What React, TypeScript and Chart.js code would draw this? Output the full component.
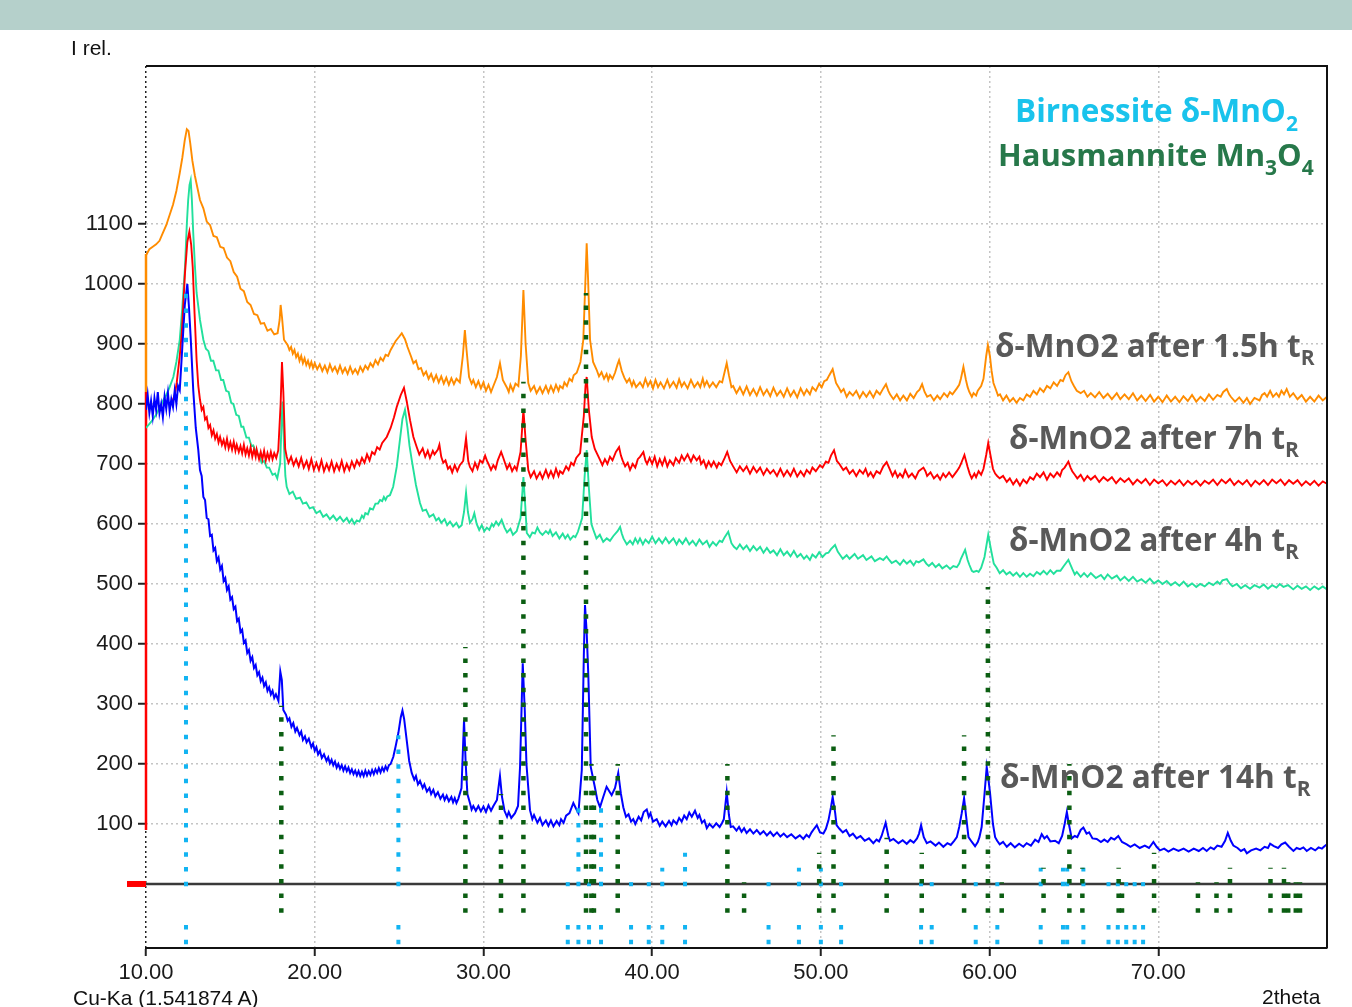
import { useEffect, useRef } from "react";
import { Chart, registerables } from "chart.js";

Chart.register(...registerables);

// ---------- data (2theta, intensity) ----------
const curve14h: [number, number][] = [
  [10.0, 790],[10.1, 815],[10.2, 785],[10.3, 805],[10.4, 780],[10.5, 810],[10.6, 790],[10.7, 820],[10.8, 785],[10.9, 800],
  [11.0, 778],[11.1, 812],[11.2, 792],[11.3, 818],[11.4, 788],[11.5, 808],[11.6, 795],[11.7, 822],[11.8, 800],[11.9, 830],
  [12.0, 823],[12.1, 870],[12.2, 918],[12.3, 965],[12.45, 1000],[12.55, 960],[12.65, 910],[12.8, 823],[12.95, 760],[13.1, 723],
  [13.2, 690],[13.3, 680],[13.4, 645],[13.5, 640],[13.6, 610],[13.7, 608],[13.8, 580],[13.9, 582],[14.0, 556],[14.1, 560],
  [14.2, 538],[14.3, 544],[14.4, 524],[14.5, 530],[14.6, 505],[14.7, 510],[14.8, 490],[14.9, 496],[15.0, 474],[15.1, 478],
  [15.2, 458],[15.3, 462],[15.4, 438],[15.5, 442],[15.6, 420],[15.7, 424],[15.8, 402],[15.9, 406],[16.0, 385],[16.1, 390],
  [16.2, 372],[16.3, 378],[16.4, 360],[16.5, 365],[16.6, 348],[16.7, 353],[16.8, 338],[16.9, 344],[17.0, 330],[17.1, 336],
  [17.2, 322],[17.3, 328],[17.4, 316],[17.5, 322],[17.6, 310],[17.7, 316],[17.85, 305],[17.96, 354],[18.05, 340],[18.14, 290],
  [18.3, 282],[18.4, 272],[18.5, 276],[18.62, 262],[18.73, 268],[18.85, 254],[18.95, 260],[19.1, 248],[19.2, 254],[19.3, 240],
  [19.42, 246],[19.52, 236],[19.65, 242],[19.8, 228],[19.9, 234],[20.0, 222],[20.1, 228],[20.2, 216],[20.31, 222],[20.42, 210],
  [20.55, 216],[20.7, 205],[20.8, 211],[20.9, 201],[21.0, 207],[21.1, 198],[21.2, 204],[21.3, 194],[21.4, 200],[21.5, 192],
  [21.6, 198],[21.7, 189],[21.8, 196],[21.9, 188],[22.0, 194],[22.1, 185],[22.2, 191],[22.3, 183],[22.4, 189],[22.5, 181],
  [22.6, 188],[22.7, 180],[22.8, 187],[22.9, 180],[23.0, 189],[23.1, 181],[23.2, 188],[23.3, 182],[23.4, 190],[23.5, 183],
  [23.6, 191],[23.7, 185],[23.8, 193],[23.9, 186],[24.0, 194],[24.1, 188],[24.2, 196],[24.3, 190],[24.4, 198],[24.5, 200],
  [24.66, 212],[24.8, 230],[24.96, 252],[25.1, 278],[25.2, 289],[25.3, 275],[25.45, 240],[25.6, 205],
  [25.75, 185],[25.9, 174],[26.0, 180],[26.12, 166],[26.24, 172],[26.4, 160],[26.5, 166],[26.65, 154],[26.8, 160],[26.9, 150],
  [27.03, 157],[27.15, 146],[27.3, 153],[27.45, 142],[27.6, 149],[27.7, 140],[27.82, 147],[27.95, 138],[28.1, 145],[28.2, 136],
  [28.3, 143],[28.4, 135],[28.51, 142],[28.7, 160],[28.85, 273],[28.95, 200],[29.05, 150],
  [29.2, 135],[29.3, 124],[29.4, 130],[29.55, 122],[29.7, 130],[29.85, 121],[30.0, 129],[30.15, 120],[30.3, 131],[30.45, 122],
  [30.59, 130],[30.8, 140],[30.98, 180],[31.1, 145],[31.25, 122],[31.4, 112],[31.5, 120],[31.65, 110],[31.87, 118],[32.05, 130],
  [32.17, 195],[32.33, 368],[32.45, 290],[32.55, 200],
  [32.76, 123],[32.9, 108],[33.0, 115],[33.2, 102],[33.35, 110],[33.5, 98],[33.7, 106],[33.85, 97],[34.0, 106],[34.15, 96],
  [34.34, 105],[34.5, 98],[34.6, 108],[34.75, 102],[34.9, 114],[35.1, 118],[35.33, 135],
  [35.5, 125],[35.63, 118],[35.83, 190],[35.95, 380],[36.02, 465],[36.12, 420],[36.22, 345],[36.36, 195],[36.6, 162],[36.75, 140],
  [36.91, 128],[37.1, 145],[37.3, 162],[37.45, 155],[37.6, 148],[37.8, 160],[37.99, 185],[38.15, 150],
  [38.29, 128],[38.45, 112],[38.6, 116],[38.75, 104],[38.88, 108],[39.0, 100],[39.2, 112],[39.35, 106],[39.5, 120],[39.68, 124],
  [39.8, 112],[39.9, 118],[40.05, 104],[40.27, 108],[40.45, 97],[40.6, 104],[40.8, 96],[41.0, 105],[41.15, 98],[41.26, 106],
  [41.45, 100],[41.6, 110],[41.75, 104],[41.9, 114],[42.05, 108],[42.2, 119],[42.35, 112],[42.54, 122],[42.7, 110],[42.8, 115],
  [42.95, 102],[43.1, 106],[43.24, 93],[43.4, 100],[43.6, 94],[43.8, 101],[44.0, 95],[44.15, 102],[44.25, 108],[44.42, 153],
  [44.55, 115],[44.66, 95],[44.8, 96],[45.0, 89],[45.15, 95],[45.3, 87],[45.45, 93],[45.6, 85],[45.8, 91],[46.0, 84],
  [46.2, 90],[46.4, 83],[46.6, 88],[46.8, 81],[47.0, 87],[47.19, 80],[47.4, 86],[47.6, 79],[47.8, 84],[48.0, 78],
  [48.25, 83],[48.5, 76],[48.75, 81],[48.96, 75],[49.15, 82],[49.3, 78],[49.45, 86],[49.6, 92],[49.76, 98],[49.95, 86],
  [50.15, 84],[50.3, 92],[50.45, 106],[50.6, 128],[50.7, 145],[50.85, 118],[50.93, 98],[51.1, 92],[51.3, 86],[51.5, 90],
  [51.7, 80],[51.9, 84],[52.12, 76],[52.35, 80],[52.6, 72],[52.85, 76],[53.11, 68],[53.3, 74],[53.45, 71],[53.6, 80],
  [53.84, 102],[54.0, 80],[54.1, 72],[54.3, 75],[54.6, 68],[54.85, 73],[55.09, 67],[55.3, 73],[55.5, 69],[55.7, 76],
  [55.82, 84],[55.94, 98],[56.1, 78],[56.28, 68],[56.5, 71],[56.8, 64],[57.0, 69],[57.26, 62],[57.5, 68],[57.7, 65],
  [57.9, 72],[58.06, 78],[58.2, 95],[58.35, 118],[58.49, 143],[58.6, 115],[58.75, 78],[58.95, 70],[59.14, 63],[59.3, 70],
  [59.4, 78],[59.53, 95],[59.7, 150],[59.83, 195],[59.95, 170],[60.03, 151],[60.2, 100],[60.33, 78],[60.45, 72],[60.6, 66],
  [60.8, 70],[61.02, 62],[61.25, 68],[61.5, 61],[61.75, 67],[62.0, 62],[62.2, 68],[62.45, 64],[62.7, 74],[62.9, 70],
  [63.09, 83],[63.25, 76],[63.4, 80],[63.6, 71],[63.88, 72],[64.1, 68],[64.3, 80],[64.45, 100],[64.58, 120],[64.7, 100],
  [64.87, 76],[65.05, 80],[65.2, 78],[65.4, 90],[65.56, 94],[65.75, 84],[65.9, 86],[66.1, 76],[66.35, 75],[66.6, 70],
  [66.8, 74],[67.0, 70],[67.2, 77],[67.4, 74],[67.63, 80],[67.85, 70],[68.13, 66],[68.35, 62],[68.6, 66],[68.9, 60],
  [69.2, 64],[69.45, 60],[69.71, 70],[69.9, 62],[70.1, 56],[70.35, 59],[70.6, 54],[70.9, 59],[71.2, 55],[71.5, 59],
  [71.8, 54],[72.1, 59],[72.4, 55],[72.65, 60],[72.87, 55],[73.1, 61],[73.3, 58],[73.5, 64],[73.75, 62],[73.96, 72],
  [74.12, 85],[74.3, 72],[74.45, 64],[74.7, 60],[74.9, 55],[75.1, 58],[75.25, 51],[75.5, 56],[75.8, 59],[76.05, 56],
  [76.3, 62],[76.5, 60],[76.63, 67],[76.85, 63],[77.1, 60],[77.3, 66],[77.52, 69],[77.75, 62],[78.01, 55],[78.2, 60],
  [78.4, 58],[78.6, 61],[78.8, 55],[79.05, 60],[79.3, 56],[79.5, 61],[79.7, 59],[79.85, 63],[80.0, 66],
];

const curve1_5h: [number, number][] = [
  [10.0, 1048],[10.2, 1058],[10.4, 1062],[10.6, 1066],[10.8, 1072],[11.0, 1085],[11.2, 1098],[11.4, 1115],[11.6, 1132],[11.8, 1155],
  [12.0, 1185],[12.15, 1210],[12.3, 1240],[12.42, 1258],[12.52, 1255],[12.62, 1235],[12.75, 1205],[12.9, 1180],[13.05, 1160],[13.2, 1140],
  [13.4, 1126],[13.6, 1104],[13.8, 1098],[14.0, 1080],[14.2, 1078],[14.4, 1062],[14.6, 1060],[14.8, 1044],[15.0, 1038],[15.2, 1020],
  [15.4, 1012],[15.6, 992],[15.8, 988],[16.0, 970],[16.2, 965],[16.4, 950],[16.6, 948],[16.8, 934],[17.0, 935],[17.2, 922],
  [17.4, 925],[17.6, 916],[17.8, 918],[17.92, 940],[17.98, 965],[18.06, 945],[18.18, 907],
  [18.4, 898],[18.5, 890],[18.6, 895],[18.7, 884],[18.8, 890],[18.9, 878],[19.0, 884],[19.1, 872],[19.2, 880],[19.3, 868],
  [19.4, 876],[19.5, 865],[19.6, 872],[19.7, 862],[19.8, 870],[19.9, 860],[20.0, 868],[20.15, 858],[20.3, 866],[20.45, 855],
  [20.6, 864],[20.75, 853],[20.9, 866],[21.05, 855],[21.2, 862],[21.35, 852],[21.5, 864],[21.65, 852],[21.8, 860],[21.95, 850],
  [22.1, 862],[22.25, 851],[22.4, 858],[22.55, 850],[22.7, 862],[22.85, 854],[23.0, 864],[23.15, 858],[23.3, 868],[23.45, 862],
  [23.6, 873],[23.75, 866],[23.9, 877],[24.05, 872],[24.2, 882],[24.35, 880],[24.5, 890],
  [24.8, 905],[25.0, 912],[25.16, 918],[25.35, 908],[25.5, 895],
  [25.7, 880],[25.85, 868],[26.0, 872],[26.15, 858],[26.3, 860],[26.45, 848],[26.6, 854],[26.75, 842],[26.9, 850],[27.05, 838],
  [27.2, 848],[27.35, 836],[27.5, 846],[27.65, 834],[27.8, 844],[27.95, 832],[28.1, 843],[28.25, 833],[28.4, 842],[28.6, 836],
  [28.78, 880],[28.9, 923],[29.0, 890],
  [29.15, 845],[29.3, 834],[29.4, 840],[29.55, 828],[29.7, 838],[29.85, 826],[30.0, 836],[30.15, 822],[30.3, 832],[30.45, 820],
  [30.59, 830],[30.8, 845],[30.98, 868],[31.15, 840],
  [31.38, 828],[31.5, 820],[31.6, 832],[31.75, 822],[31.9, 834],[32.07, 830],[32.22, 880],[32.37, 990],[32.5, 900],
  [32.66, 835],[32.8, 822],[33.0, 830],[33.15, 818],[33.35, 828],[33.5, 818],[33.7, 830],[33.85, 819],[34.0, 830],[34.15, 820],
  [34.3, 832],[34.45, 822],[34.54, 830],[34.7, 826],[34.8, 836],[34.95, 830],[35.1, 842],[35.25, 838],[35.35, 848],[35.53, 852],
  [35.75, 870],[35.92, 907],[36.05, 1010],[36.12, 1068],[36.2, 1010],[36.32, 907],[36.5, 870],
  [36.71, 857],[36.85, 846],[37.0, 853],[37.15, 842],[37.3, 850],[37.4, 840],[37.5, 848],[37.65, 842],[37.8, 852],[37.95, 866],
  [38.04, 873],[38.2, 855],[38.35, 844],[38.5, 836],[38.65, 842],[38.8, 830],[38.9, 838],[39.05, 828],[39.28, 836],[39.45, 828],
  [39.6, 842],[39.75, 830],[39.9, 838],[40.05, 826],[40.2, 840],[40.35, 828],[40.5, 836],[40.7, 826],[40.9, 840],[41.05, 828],
  [41.26, 837],[41.45, 827],[41.6, 841],[41.75, 829],[41.9, 836],[42.1, 826],[42.3, 840],[42.5, 828],[42.7, 836],[42.85, 828],
  [43.0, 842],[43.1, 830],[43.24, 838],[43.4, 828],[43.6, 836],[43.8, 828],[44.0, 838],[44.15, 836],[44.25, 848],[44.42, 868],
  [44.55, 848],[44.7, 828],[44.8, 830],[45.0, 818],[45.2, 828],[45.4, 816],[45.6, 829],[45.8, 815],[46.0, 825],[46.2, 814],
  [46.4, 828],[46.6, 815],[46.8, 824],[47.0, 813],[47.19, 827],[47.4, 814],[47.6, 822],[47.8, 812],[48.0, 826],[48.2, 813],
  [48.4, 822],[48.6, 811],[48.8, 826],[49.0, 815],[49.16, 824],[49.35, 816],[49.5, 828],[49.7, 822],[49.9, 834],[50.05, 828],
  [50.2, 838],[50.35, 840],[50.5, 848],[50.7, 858],[50.9, 835],[51.05, 828],[51.2, 820],[51.35, 825],[51.53, 812],[51.7, 820],
  [51.9, 814],[52.1, 822],[52.3, 810],[52.5, 820],[52.7, 812],[52.9, 821],[53.11, 811],[53.3, 822],[53.5, 816],[53.7, 826],
  [53.86, 833],[54.0, 822],[54.1, 816],[54.3, 808],[54.5, 816],[54.7, 806],[54.89, 814],[55.1, 806],[55.3, 817],[55.5, 810],
  [55.7, 820],[55.85, 824],[56.0, 833],[56.15, 820],[56.3, 812],[56.5, 815],[56.7, 806],[56.9, 814],[57.07, 808],[57.3, 818],
  [57.5, 812],[57.65, 820],[57.8, 816],[58.06, 826],[58.2, 832],[58.3, 842],[58.45, 862],[58.6, 840],[58.7, 828],[58.8, 820],
  [58.95, 812],[59.05, 818],[59.2, 814],[59.3, 822],[59.5, 830],[59.64, 842],[59.8, 880],[59.9, 898],[60.02, 880],[60.12, 855],
  [60.23, 835],[60.4, 822],[60.5, 814],[60.62, 816],[60.8, 806],[61.0, 814],[61.2, 804],[61.4, 810],[61.6, 802],[61.8, 810],
  [62.0, 806],[62.2, 816],[62.4, 812],[62.6, 822],[62.8, 816],[62.99, 826],[63.2, 820],[63.4, 830],[63.6, 826],[63.8, 836],
  [64.0, 830],[64.2, 840],[64.35, 838],[64.5, 848],[64.67, 853],[64.85, 838],[65.0, 830],[65.17, 822],[65.4, 818],[65.6, 822],
  [65.8, 812],[66.0, 818],[66.25, 811],[66.5, 820],[66.75, 810],[67.0, 817],[67.25, 808],[67.54, 818],[67.75, 808],[68.0, 816],
  [68.25, 808],[68.5, 818],[68.75, 806],[69.0, 814],[69.25, 805],[69.52, 815],[69.75, 804],[70.0, 812],[70.25, 803],[70.5, 814],
  [70.75, 804],[71.0, 812],[71.25, 803],[71.49, 813],[71.75, 805],[72.0, 815],[72.25, 804],[72.5, 812],[72.75, 805],[73.0, 816],
  [73.25, 807],[73.5, 815],[73.7, 812],[73.85, 820],[74.06, 825],[74.2, 816],[74.3, 812],[74.55, 804],[74.8, 811],[75.05, 802],
  [75.25, 810],[75.44, 800],[75.7, 810],[76.0, 806],[76.15, 815],[76.3, 818],[76.45, 812],[76.63, 822],[76.8, 812],[77.0, 818],
  [77.15, 812],[77.3, 822],[77.45, 816],[77.61, 825],[77.8, 812],[78.0, 818],[78.25, 808],[78.5, 815],[78.75, 804],[79.0, 812],
  [79.25, 804],[79.5, 814],[79.75, 806],[80.0, 812],
];

const curve7h: [number, number][] = [
  [11.5, 800],[11.7, 815],[11.82, 835],[12.0, 880],[12.12, 918],[12.22, 970],[12.31, 1018],[12.45, 1070],[12.57, 1087],[12.68, 1065],
  [12.77, 1028],[12.88, 950],[13.0, 873],[13.1, 830],
  [13.2, 807],[13.3, 790],[13.4, 795],[13.5, 774],[13.6, 778],[13.7, 760],[13.8, 765],[13.9, 748],[14.0, 756],[14.1, 742],
  [14.2, 750],[14.3, 736],[14.39, 745],[14.5, 732],[14.6, 740],[14.7, 728],[14.8, 742],[14.9, 726],[15.0, 736],[15.1, 724],
  [15.2, 737],[15.3, 722],[15.38, 732],[15.5, 720],[15.6, 730],[15.7, 718],[15.8, 732],[15.9, 716],[16.0, 726],[16.1, 714],
  [16.2, 728],[16.3, 712],[16.4, 724],[16.5, 712],[16.56, 724],[16.7, 708],[16.8, 720],[16.9, 708],[17.0, 722],[17.1, 706],
  [17.2, 718],[17.3, 708],[17.4, 720],[17.5, 708],[17.6, 718],[17.72, 710],[17.84, 723],
  [17.98, 800],[18.06, 870],[18.14, 820],[18.25, 725],
  [18.34, 712],[18.45, 702],[18.6, 712],[18.75, 698],[18.9, 708],[19.05, 696],[19.2, 710],[19.35, 694],[19.52, 705],[19.65, 692],
  [19.8, 708],[19.95, 690],[20.1, 702],[20.25, 690],[20.4, 706],[20.55, 688],[20.71, 700],[20.85, 690],[21.0, 704],[21.15, 688],
  [21.3, 700],[21.45, 690],[21.6, 705],[21.75, 688],[21.9, 700],[22.05, 690],[22.2, 704],[22.35, 694],[22.5, 706],[22.65, 698],
  [22.8, 710],[22.95, 702],[23.1, 716],[23.25, 706],[23.4, 720],[23.55, 716],[23.7, 728],[23.85, 724],[24.0, 735],
  [24.27, 745],[24.5, 760],[24.7, 778],[24.86, 795],[25.1, 815],[25.29, 827],[25.45, 805],[25.65, 773],[25.85, 745],
  [26.05, 728],[26.2, 716],[26.4, 726],[26.55, 712],[26.7, 722],[26.83, 710],[27.0, 722],[27.1, 716],[27.3, 724],[27.39, 732],
  [27.5, 712],[27.62, 702],[27.75, 706],[27.9, 692],[28.02, 696],[28.15, 686],[28.3, 698],[28.45, 688],[28.6, 698],[28.8, 705],
  [28.97, 743],[29.1, 705],
  [29.2, 695],[29.35, 688],[29.5, 702],[29.65, 692],[29.8, 706],[29.95, 702],[30.1, 714],[30.2, 706],[30.3, 700],[30.45, 690],
  [30.59, 698],[30.72, 692],[30.85, 706],[31.05, 720],[31.18, 710],[31.3, 700],[31.4, 692],[31.55, 700],[31.7, 688],[31.85, 696],
  [31.97, 690],[32.2, 720],[32.37, 790],[32.5, 740],
  [32.66, 690],[32.8, 678],[33.0, 688],[33.15, 676],[33.35, 686],[33.5, 676],[33.7, 690],[33.85, 678],[34.0, 688],[34.15, 678],
  [34.3, 692],[34.45, 680],[34.54, 688],[34.7, 684],[34.9, 696],[35.05, 690],[35.2, 702],[35.35, 698],[35.5, 710],[35.73, 718],
  [35.95, 780],[36.05, 830],[36.12, 845],[36.25, 790],[36.42, 745],[36.6, 725],
  [36.91, 707],[37.05, 698],[37.2, 708],[37.35, 700],[37.5, 712],[37.65, 706],[37.85, 720],[38.04, 728],[38.15, 714],[38.25, 706],
  [38.4, 696],[38.55, 702],[38.69, 690],[38.85, 700],[39.0, 694],[39.15, 708],[39.28, 712],[39.48, 720],[39.6, 706],[39.7, 700],
  [39.85, 710],[40.0, 700],[40.15, 712],[40.3, 696],[40.45, 708],[40.6, 698],[40.75, 710],[40.9, 696],[41.05, 706],[41.26, 698],
  [41.4, 710],[41.6, 702],[41.75, 714],[41.9, 706],[42.1, 716],[42.3, 704],[42.45, 714],[42.64, 706],[42.8, 712],[42.9, 700],
  [43.05, 706],[43.2, 694],[43.35, 704],[43.5, 696],[43.65, 704],[43.83, 694],[43.95, 702],[44.1, 698],[44.3, 710],[44.45, 720],
  [44.62, 705],[44.8, 696],[45.01, 686],[45.2, 696],[45.4, 688],[45.6, 696],[45.8, 684],[46.0, 695],[46.2, 686],[46.4, 694],
  [46.6, 682],[46.8, 692],[47.0, 684],[47.19, 690],[47.4, 680],[47.6, 692],[47.8, 680],[48.0, 689],[48.2, 680],[48.4, 692],
  [48.6, 679],[48.8, 688],[49.0, 680],[49.16, 690],[49.35, 684],[49.5, 694],[49.7, 688],[49.95, 698],[50.1, 694],[50.3, 704],
  [50.45, 702],[50.6, 714],[50.78, 723],[50.95, 705],[51.1, 700],[51.33, 690],[51.5, 694],[51.7, 684],[51.9, 690],[52.1, 680],
  [52.3, 690],[52.5, 684],[52.65, 692],[52.8, 680],[52.95, 686],[53.11, 678],[53.3, 688],[53.5, 684],[53.7, 696],[53.9, 703],
  [54.1, 690],[54.25, 680],[54.4, 688],[54.55, 678],[54.69, 684],[54.85, 678],[55.0, 690],[55.2, 678],[55.4, 684],[55.6, 676],
  [55.8, 688],[56.08, 694],[56.2, 688],[56.3, 680],[56.5, 686],[56.7, 676],[56.9, 682],[57.07, 674],[57.25, 684],[57.4, 678],
  [57.6, 686],[57.8, 678],[58.06, 688],[58.2, 694],[58.3, 700],[58.51, 715],[58.7, 695],[58.82, 684],[58.94, 676],[59.1, 684],
  [59.2, 678],[59.35, 688],[59.5, 682],[59.64, 692],[59.8, 715],[59.92, 735],[60.05, 715],[60.2, 692],[60.33, 684],[60.45, 680],
  [60.6, 676],[60.8, 680],[61.02, 670],[61.2, 676],[61.4, 666],[61.6, 674],[61.8, 664],[62.0, 674],[62.2, 668],[62.4, 678],
  [62.6, 674],[62.8, 684],[62.99, 678],[63.2, 686],[63.4, 674],[63.6, 684],[63.8, 678],[64.0, 686],[64.18, 680],[64.3, 690],
  [64.45, 694],[64.67, 704],[64.8, 694],[64.9, 688],[65.05, 682],[65.2, 676],[65.4, 682],[65.6, 672],[65.8, 680],[66.0, 674],
  [66.25, 680],[66.5, 670],[66.75, 678],[67.0, 672],[67.25, 678],[67.5, 668],[67.75, 676],[68.0, 670],[68.25, 676],[68.5, 666],
  [68.75, 674],[69.0, 668],[69.25, 675],[69.5, 665],[69.75, 674],[70.0, 668],[70.25, 673],[70.5, 664],[70.75, 672],[71.0, 666],
  [71.25, 673],[71.5, 664],[71.75, 672],[72.0, 666],[72.25, 672],[72.5, 664],[72.75, 672],[73.0, 667],[73.25, 674],[73.5, 665],
  [73.75, 674],[74.0, 668],[74.25, 675],[74.5, 665],[74.75, 672],[75.0, 666],[75.25, 673],[75.5, 663],[75.75, 672],[76.0, 666],
  [76.25, 673],[76.5, 665],[76.75, 674],[77.0, 668],[77.25, 674],[77.5, 665],[77.75, 673],[78.0, 667],[78.25, 673],[78.5, 664],
  [78.75, 671],[79.0, 665],[79.25, 672],[79.5, 664],[79.75, 671],[80.0, 667],
];

const curve4h: [number, number][] = [
  [10.0, 760],[10.3, 770],[10.6, 782],[10.83, 795],[11.0, 805],[11.2, 815],[11.4, 828],[11.62, 845],[11.8, 870],[12.0, 907],
  [12.15, 960],[12.31, 1028],[12.42, 1100],[12.5, 1140],[12.58, 1165],[12.65, 1173],[12.72, 1140],[12.8, 1085],[12.9, 1030],[13.0, 985],
  [13.2, 940],
  [13.4, 907],[13.55, 892],[13.7, 888],[13.85, 872],[13.99, 872],[14.15, 856],[14.3, 856],[14.45, 840],[14.58, 840],[14.75, 822],
  [14.9, 820],[15.05, 802],[15.18, 800],[15.35, 782],[15.5, 780],[15.65, 762],[15.77, 762],[15.95, 744],[16.1, 744],[16.25, 730],
  [16.36, 731],[16.55, 716],[16.7, 716],[16.85, 702],[17.0, 705],[17.16, 694],[17.3, 694],[17.5, 682],[17.65, 684],[17.78, 676],
  [17.95, 700],[18.05, 780],[18.1, 804],[18.18, 730],[18.26, 680],
  [18.34, 662],[18.5, 650],[18.7, 654],[18.9, 642],[19.13, 644],[19.3, 634],[19.5, 636],[19.7, 626],[19.9, 628],[20.1, 618],
  [20.31, 622],[20.5, 612],[20.7, 616],[20.9, 608],[21.1, 614],[21.3, 606],[21.5, 612],[21.7, 604],[21.9, 610],[22.05, 602],
  [22.2, 608],[22.35, 600],[22.49, 606],[22.65, 604],[22.8, 614],[22.9, 610],[23.0, 618],[23.15, 616],[23.28, 626],[23.45, 624],
  [23.6, 634],[23.75, 634],[23.87, 640],[24.0, 638],[24.1, 645],[24.2, 640],[24.3, 646],[24.46, 648],
  [24.65, 662],[24.86, 695],[25.05, 740],[25.2, 775],[25.35, 790],[25.5, 760],[25.62, 730],[25.75, 707],[26.0, 665],
  [26.24, 635],[26.4, 622],[26.6, 624],[26.8, 612],[27.03, 616],[27.2, 606],[27.35, 610],[27.5, 602],[27.7, 608],[27.85, 598],
  [28.02, 604],[28.2, 596],[28.4, 602],[28.55, 594],[28.71, 598],
  [28.85, 620],[28.97, 652],[29.08, 620],[29.2, 602],[29.35, 608],[29.46, 618],
  [29.6, 600],[29.75, 590],[29.9, 598],[30.05, 588],[30.2, 594],[30.35, 590],[30.5, 600],[30.6, 596],[30.75, 604],[30.9, 598],
  [31.08, 607],[31.25, 594],[31.4, 586],[31.6, 592],[31.75, 582],[31.97, 588],
  [32.2, 610],[32.37, 678],[32.48, 630],
  [32.57, 585],[32.75, 578],[32.9, 586],[33.05, 584],[33.2, 594],[33.35, 586],[33.5, 582],[33.7, 588],[33.85, 584],[33.95, 590],
  [34.1, 580],[34.3, 586],[34.5, 576],[34.7, 584],[34.85, 576],[35.0, 582],[35.15, 574],[35.33, 580],[35.45, 578],[35.6, 587],
  [35.85, 610],[36.0, 680],[36.12, 723],[36.25, 660],[36.4, 600],
  [36.52, 590],[36.7, 576],[36.9, 582],[37.1, 570],[37.31, 576],[37.5, 572],[37.7, 580],[37.95, 588],[38.1, 595],[38.2, 584],
  [38.3, 576],[38.5, 566],[38.69, 572],[38.85, 566],[39.0, 576],[39.15, 568],[39.28, 576],[39.45, 566],[39.6, 574],[39.8, 568],
  [40.0, 579],[40.2, 568],[40.4, 576],[40.6, 568],[40.8, 577],[41.0, 568],[41.26, 576],[41.45, 566],[41.6, 574],[41.8, 567],
  [42.0, 576],[42.2, 566],[42.4, 572],[42.6, 564],[42.8, 574],[43.0, 566],[43.24, 572],[43.4, 562],[43.6, 570],[43.8, 564],
  [44.0, 572],[44.15, 570],[44.3, 578],[44.51, 587],[44.7, 568],[44.85, 562],[45.01, 558],[45.2, 566],[45.4, 558],[45.6, 564],
  [45.8, 555],[46.0, 563],[46.2, 556],[46.4, 562],[46.6, 552],[46.8, 560],[47.0, 552],[47.19, 556],[47.4, 548],[47.6, 558],
  [47.8, 548],[48.0, 554],[48.2, 546],[48.4, 555],[48.6, 545],[48.8, 550],[49.0, 542],[49.16, 547],[49.35, 540],[49.5, 549],
  [49.7, 544],[49.9, 553],[50.1, 545],[50.3, 551],[50.45, 552],[50.6, 558],[50.84, 565],[51.0, 554],[51.1, 550],[51.3, 542],
  [51.53, 548],[51.7, 542],[52.0, 550],[52.2, 542],[52.5, 548],[52.7, 540],[53.0, 546],[53.2, 538],[53.5, 543],[53.7, 540],
  [53.9, 546],[54.05, 540],[54.2, 535],[54.45, 539],[54.69, 532],[54.9, 540],[55.1, 534],[55.3, 539],[55.5, 531],[55.65, 538],
  [55.8, 536],[56.08, 541],[56.25, 534],[56.4, 530],[56.6, 535],[56.8, 528],[57.0, 533],[57.2, 526],[57.45, 531],[57.66, 525],
  [57.85, 530],[58.06, 528],[58.2, 534],[58.3, 542],[58.55, 557],[58.7, 540],[58.8, 532],[58.95, 522],[59.05, 520],[59.24, 522],
  [59.35, 520],[59.5, 527],[59.7, 545],[59.92, 582],[60.1, 555],[60.25, 534],[60.42, 527],[60.6, 518],[60.8, 523],[61.0, 516],
  [61.2, 520],[61.4, 514],[61.6, 519],[61.8, 512],[62.0, 518],[62.2, 512],[62.4, 517],[62.6, 513],[62.8, 520],[63.0, 516],
  [63.2, 522],[63.4, 516],[63.6, 523],[63.8, 517],[63.98, 522],[64.2, 522],[64.4, 530],[64.67, 540],[64.9, 525],[65.05, 516],
  [65.17, 520],[65.4, 512],[65.6, 518],[65.8, 512],[66.0, 518],[66.3, 510],[66.6, 515],[66.8, 508],[67.0, 516],[67.25, 509],
  [67.54, 514],[67.75, 506],[68.0, 512],[68.25, 505],[68.5, 512],[68.75, 504],[69.0, 508],[69.25, 502],[69.5, 509],[69.75, 501],
  [70.0, 506],[70.25, 500],[70.5, 505],[70.75, 498],[71.0, 503],[71.25, 497],[71.5, 504],[71.75, 496],[72.0, 501],[72.25, 495],
  [72.48, 500],[72.75, 496],[73.0, 502],[73.25, 498],[73.5, 504],[73.65, 500],[73.8, 506],[74.06, 508],[74.25, 500],[74.4, 496],
  [74.65, 500],[74.9, 493],[75.15, 498],[75.44, 492],[75.7, 498],[76.0, 494],[76.25, 499],[76.5, 492],[76.75, 498],[77.0, 494],
  [77.2, 500],[77.42, 495],[77.7, 498],[78.0, 491],[78.25, 497],[78.5, 492],[78.75, 496],[79.0, 490],[79.25, 496],[79.5, 491],
  [79.75, 496],[80.0, 491],
];

// Reference patterns (stick positions in 2theta and relative heights)
const hausmanniteTheta = [18.02, 28.93, 31.04, 32.37, 36.08, 36.4, 36.55, 37.96, 44.46, 45.45, 49.9, 50.75, 53.9, 55.98, 58.49, 59.9, 60.72, 63.2, 64.73, 65.5, 67.65, 67.85, 69.75, 72.35, 73.45, 74.25, 76.65, 77.45, 77.7, 78.15, 78.4];
const hausmanniteHeight = [297, 395, 150, 837, 985, 200, 195, 200, 200, 3, 52, 248, 77, 52, 248, 495, 3, 27, 200, 27, 27, 3, 52, 3, 3, 27, 27, 27, 3, 3, 3];
const birnessiteTheta = [12.37, 24.96, 35.0, 35.63, 36.26, 36.97, 38.75, 39.8, 40.6, 41.95, 46.9, 48.7, 50.0, 51.2, 55.94, 56.57, 59.18, 60.46, 63.03, 64.35, 64.6, 65.56, 67.05, 67.6, 68.1, 68.6, 69.1];
const birnessiteHeight = [985, 248, 3, 127, 3, 127, 3, 3, 27, 52, 3, 27, 27, 3, 3, 3, 3, 3, 27, 27, 27, 27, 3, 3, 3, 3, 3];

const hausmanniteBase = -48;
const birnessiteBase = -3.75;
const birnessiteLowRow = [-100.4, -68.3];

// offset indicators on the left edge
const offsetOrange: [number, number][] = [[10, 820], [10, 1050]];
const offsetRed: [number, number][] = [[10, 90], [10, 820]];
const zeroLine: [number, number][] = [[10, 0], [80, 0]];

const xTickValues = [10, 20, 30, 40, 50, 60, 70];
const yTickValues = [100, 200, 300, 400, 500, 600, 700, 800, 900, 1000, 1100];
const xRange = [10, 80];
const yRange = [-106.7, 1363.3];

const toXY = (arr: [number, number][]) => arr.map(([x, y]) => ({ x, y }));

const COL_ORANGE = "#ff8c00";
const COL_RED = "#ff0000";
const COL_GREEN = "#22e09c";
const COL_BLUE = "#0000ff";
const COL_STICK_GREEN = "#0b5e12";
const COL_STICK_BLUE = "#12b4f2";

export default function App() {
  const canvasRef = useRef<HTMLCanvasElement | null>(null);

  useEffect(() => {
    const canvas = canvasRef.current;
    if (!canvas) return;

    const lineBase = {
      pointRadius: 0,
      tension: 0,
      fill: false,
    };

    const stickDatasets: any[] = [];
    hausmanniteTheta.forEach((t, i) => {
      stickDatasets.push({
        ...lineBase,
        data: [{ x: t, y: hausmanniteBase }, { x: t, y: hausmanniteHeight[i] }],
        borderColor: COL_STICK_GREEN,
        borderWidth: 4.5,
        borderDash: [4.5, 10.2],
        borderCapStyle: "butt",
      });
    });
    birnessiteTheta.forEach((t, i) => {
      stickDatasets.push({
        ...lineBase,
        data: [{ x: t, y: birnessiteBase }, { x: t, y: birnessiteHeight[i] }],
        borderColor: COL_STICK_BLUE,
        borderWidth: 4,
        borderDash: [4.5, 10.2],
        borderCapStyle: "butt",
      });
      stickDatasets.push({
        ...lineBase,
        data: [{ x: t, y: birnessiteLowRow[0] }, { x: t, y: birnessiteLowRow[1] }],
        borderColor: COL_STICK_BLUE,
        borderWidth: 4,
        borderDash: [4.5, 10.2],
        borderCapStyle: "butt",
      });
    });

    const framePlugin = {
      id: "frame",
      afterDraw(chart: any) {
        const { ctx, chartArea, scales } = chart;
        const { left, right, top, bottom } = chartArea;
        ctx.save();
        ctx.strokeStyle = "#111";
        ctx.lineWidth = 2;
        ctx.beginPath();
        ctx.moveTo(left, top);
        ctx.lineTo(right, top);
        ctx.lineTo(right, bottom);
        ctx.stroke();
        const y0 = scales.y.getPixelForValue(0);
        ctx.fillStyle = COL_RED;
        ctx.fillRect(left - 19, y0 - 3, 19, 6);
        ctx.restore();
      },
    };

    const chart = new Chart(canvas, {
      type: "line",
      data: {
        datasets: [
          ...stickDatasets,
          { ...lineBase, data: toXY(curve14h), borderColor: COL_BLUE, borderWidth: 2 },
          { ...lineBase, data: toXY(curve7h), borderColor: COL_RED, borderWidth: 1.9 },
          { ...lineBase, data: toXY(curve4h), borderColor: COL_GREEN, borderWidth: 1.9 },
          { ...lineBase, data: toXY(curve1_5h), borderColor: COL_ORANGE, borderWidth: 1.9 },
          { ...lineBase, data: toXY(offsetOrange), borderColor: COL_ORANGE, borderWidth: 2.5, clip: false },
          { ...lineBase, data: toXY(offsetRed), borderColor: COL_RED, borderWidth: 2.5, clip: false },
          { ...lineBase, data: toXY(zeroLine), borderColor: "#3a3a3a", borderWidth: 2.5 },
        ] as any,
      },
      options: {
        animation: false,
        responsive: false,
        devicePixelRatio: 1,
        layout: { padding: { top: 66, right: 25, left: 0, bottom: 0 } },
        plugins: { legend: { display: false }, tooltip: { enabled: false } },
        events: [],
        scales: {
          x: {
            type: "linear",
            min: xRange[0],
            max: xRange[1],
            afterBuildTicks: (s: any) => {
              s.ticks = xTickValues.map((v) => ({ value: v }));
            },
            afterFit: (s: any) => {
              s.height = 59;
            },
            ticks: {
              callback: (v: any) => Number(v).toFixed(2),
              font: { family: "'Liberation Sans', Arial, sans-serif", size: 22 },
              color: "#1a1a1a",
              padding: 4,
              maxRotation: 0,
              autoSkip: false,
            },
            grid: {
              color: (c: any) => (c.tick && c.tick.value === 10 ? "#222" : "#c4c4c4"),
              lineWidth: 1.5,
              tickLength: 8,
              tickColor: "#222",
              tickWidth: 2,
            },
            border: { display: true, color: "#111", width: 2, dash: [2, 3] },
          },
          y: {
            type: "linear",
            min: yRange[0],
            max: yRange[1],
            afterBuildTicks: (s: any) => {
              s.ticks = yTickValues.map((v) => ({ value: v }));
            },
            afterFit: (s: any) => {
              s.width = 146;
            },
            ticks: {
              callback: (v: any) => String(v),
              font: { family: "'Liberation Sans', Arial, sans-serif", size: 22 },
              color: "#1a1a1a",
              padding: 5,
              autoSkip: false,
            },
            grid: {
              color: "#c4c4c4",
              lineWidth: 1.5,
              tickLength: 8,
              tickColor: "#222",
              tickWidth: 2,
            },
            border: { display: false, dash: [2, 3] },
          },
        },
      } as any,
      plugins: [framePlugin],
    });

    return () => chart.destroy();
  }, []);

  const labelFont = "'Open Sans', 'Noto Sans', sans-serif";
  const axisFont = "'Liberation Sans', Arial, sans-serif";

  return (
    <div style={{ position: "absolute", left: 0, top: 0, width: 1352, height: 1007, background: "#fff", overflow: "hidden" }}>
      <div style={{ position: "absolute", left: 0, top: 0, width: 1352, height: 30, background: "#b5d0cb" }} />
      <canvas ref={canvasRef} width={1352} height={1007} style={{ position: "absolute", left: 0, top: 0, width: 1352, height: 1007 }} />
      <svg width={1352} height={1007} style={{ position: "absolute", left: 0, top: 0, pointerEvents: "none" }}>
        <text x={71} y={55} fontFamily={axisFont} fontSize={21} fill="#111">I rel.</text>
        <text x={73} y={1005} fontFamily={axisFont} fontSize={21} fill="#111">Cu-Ka (1.541874 A)</text>
        <text x={1262} y={1004} fontFamily={axisFont} fontSize={21} fill="#111">2theta</text>

        <text x={1015} y={122} fontFamily={labelFont} fontWeight={700} fontSize={31.5} fill="#19c3ec">
          <tspan>Birnessite δ-MnO</tspan>
          <tspan dy={9} fontSize={21}>2</tspan>
        </text>
        <text x={998} y={166} fontFamily={labelFont} fontWeight={700} fontSize={31} fill="#27784a">
          <tspan>Hausmannite Mn</tspan>
          <tspan dy={9} fontSize={21}>3</tspan>
          <tspan dy={-9}>O</tspan>
          <tspan dy={9} fontSize={21}>4</tspan>
        </text>

        <text x={995} y={357} fontFamily={labelFont} fontWeight={700} fontSize={31.6} fill="#595959">
          <tspan>δ-MnO2 after 1.5h t</tspan>
          <tspan dy={8} fontSize={21}>R</tspan>
        </text>
        <text x={1009} y={449} fontFamily={labelFont} fontWeight={700} fontSize={31.3} fill="#595959">
          <tspan>δ-MnO2 after 7h t</tspan>
          <tspan dy={8} fontSize={21}>R</tspan>
        </text>
        <text x={1009} y={551} fontFamily={labelFont} fontWeight={700} fontSize={31.3} fill="#595959">
          <tspan>δ-MnO2 after 4h t</tspan>
          <tspan dy={8} fontSize={21}>R</tspan>
        </text>
        <text x={1000} y={788} fontFamily={labelFont} fontWeight={700} fontSize={31.6} fill="#595959">
          <tspan>δ-MnO2 after 14h t</tspan>
          <tspan dy={8} fontSize={21}>R</tspan>
        </text>
      </svg>
    </div>
  );
}
